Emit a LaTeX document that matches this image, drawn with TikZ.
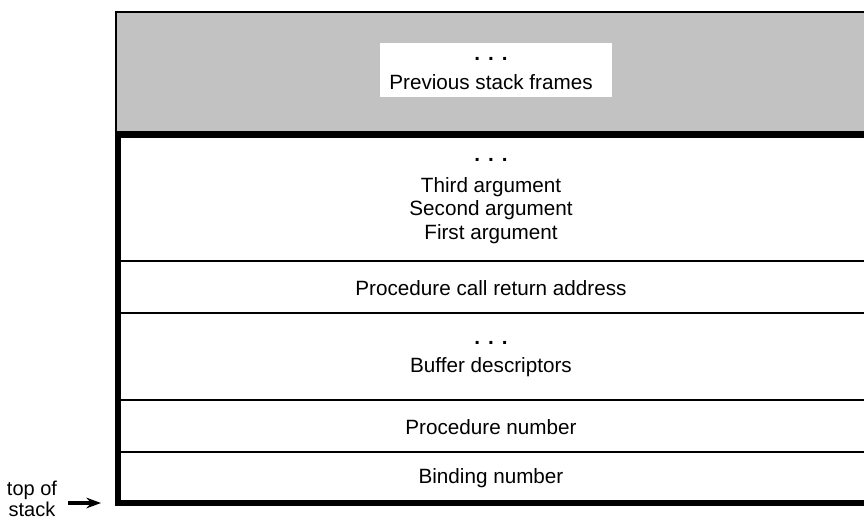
\documentclass[tikz,border=0pt]{standalone}
\usepackage{fontspec}
\setmainfont{Liberation Sans}
\usetikzlibrary{arrows.meta}

\newcommand{\stackdots}{\textbf{.\hspace{6pt}.\hspace{6pt}.}}

\tikzset{
  rowtext/.style={font=\fontsize{15.5}{17.6}\selectfont, inner sep=0pt, align=center},
  divider/.style={line width=1.9pt},
  frameline/.style={line width=5.2pt, line join=miter},
  pointer/.style={line width=2.4pt, -{Stealth[length=11pt, width=8pt]}},
}

\begin{document}
\begin{tikzpicture}[x=0.75pt, y=-0.75pt]
  \useasboundingbox (0,0) rectangle (864,524);
  \begin{scope}
    \clip (0,0) rectangle (864,524);
    % previous stack frames (shaded)
    \fill[black!24] (116,12) rectangle (880,134);
    \draw[line width=1.8pt] (116,134) -- (116,12) -- (880,12);
    \fill[white] (380,43) rectangle (612,97);
    \node[rowtext] (prevdots) at (491,59) {\stackdots};
    \node[rowtext] (prevtext) at (491,82) {Previous stack frames};

    % current frame
    \draw[divider] (118,261) -- (880,261);
    \draw[divider] (118,313) -- (880,313);
    \draw[divider] (118,400) -- (880,400);
    \draw[divider] (118,452) -- (880,452);
    \draw[frameline] (880,134.5) -- (118,134.5) -- (118,503) -- (880,503);

    \node[rowtext] (argdots) at (491,160) {\stackdots};
    \node[rowtext] (argthree) at (491,187) {Third argument};
    \node[rowtext] (argtwo) at (491,210) {Second argument};
    \node[rowtext] (argone) at (491,234) {First argument};
    \node[rowtext] (retaddr) at (491,288) {Procedure call return address};
    \node[rowtext] (bufdots) at (491,343) {\stackdots};
    \node[rowtext] (bufdesc) at (491,367) {Buffer descriptors};
    \node[rowtext] (procnum) at (491,427) {Procedure number};
    \node[rowtext] (bindnum) at (491,478) {Binding number};
  \end{scope}

  % top of stack marker
  \node[rowtext, font=\fontsize{15}{16}\selectfont] (topstack) at (32,499) {top of\\stack};
  \coordinate (arrowtail) at (68,503);
  \coordinate (arrowtip) at (101,503);
  \draw[pointer] (arrowtail) -- (arrowtip);
\end{tikzpicture}
\end{document}
